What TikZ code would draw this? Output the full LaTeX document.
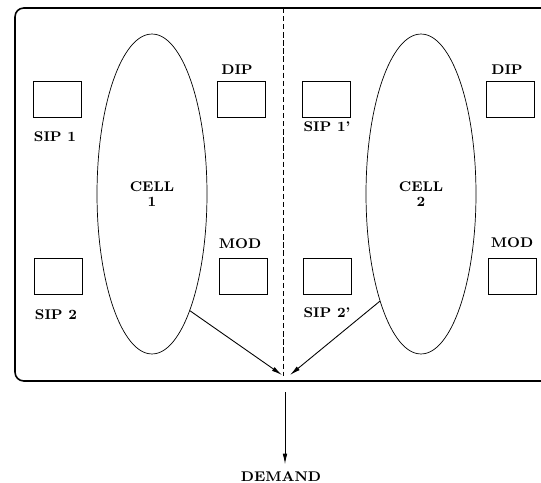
\documentclass[tikz,border=0pt]{standalone}
\usetikzlibrary{arrows.meta, positioning, shapes.geometric}

\begin{document}
\begin{tikzpicture}[x=0.02cm, y=-0.02cm,
    box/.style={rectangle, draw, minimum width=0.96cm, minimum height=0.72cm, inner sep=0pt},
    cell/.style={ellipse, draw, minimum width=2.2cm, minimum height=6.4cm, inner sep=0pt, align=center,
      font=\fontsize{8}{8.6}\selectfont\bfseries},
    tag/.style={font=\fontsize{8}{9}\selectfont\bfseries, inner sep=1pt},
    flow/.style={-{Latex[length=6pt, width=2.6pt]}, line width=0.5pt}]
      \useasboundingbox (0,0) rectangle (541,483);

      % frame and divider
      \draw[line width=0.9pt, rounded corners=5pt] (541,8) -- (15,8) -- (15,381) -- (541,381);
      \draw[dashed, dash pattern=on 3pt off 1.6pt] (283,8) -- (283,376);

      % left half
      \node[cell] (cell1) at (152,194) {CELL\\1};
      \node[box] (sip1) at (57,99) {};
      \node[box] (dip1) at (241,99) {};
      \node[box] (sip2) at (58,276) {};
      \node[box] (mod1) at (243,276) {};
      \node[tag] (tSip1) at (55,137) {SIP 1};
      \node[tag] (tDip1) at (237,70) {DIP};
      \node[tag] (tSip2) at (56,315) {SIP 2};
      \node[tag] (tMod1) at (240,244) {MOD};

      % right half
      \node[cell] (cell2) at (421,194) {CELL\\2};
      \node[box] (sip1b) at (326,99) {};
      \node[box] (dip2) at (510,99) {};
      \node[box] (sip2b) at (327,276) {};
      \node[box] (mod2) at (512,276) {};
      \node[tag] (tSip1b) at (327,127) {SIP 1'};
      \node[tag] (tDip2) at (507,70) {DIP};
      \node[tag] (tSip2b) at (327,313) {SIP 2'};
      \node[tag] (tMod2) at (512,243) {MOD};

      \coordinate (inL) at (282,375);
      \coordinate (inR) at (290,375);
      \coordinate (out) at (285,392);
      \node[tag, anchor=base] (demand) at (281,481.5) {DEMAND};

      \draw[flow] (cell1.-72.6) -- (inL);
      \draw[flow] (cell2.-111.1) -- (inR);
      \draw[flow, shorten >=3pt] (out) -- (demand.north -| out);
    \end{tikzpicture}
\end{document}
